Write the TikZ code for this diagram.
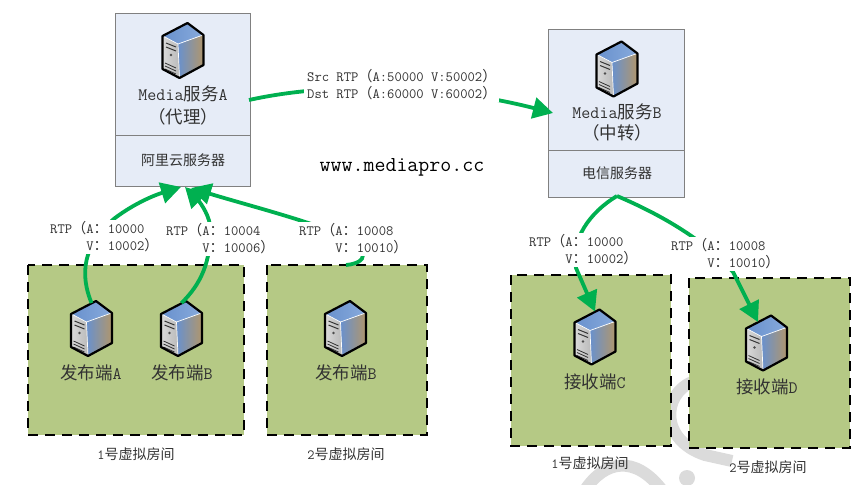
\documentclass[tikz,border=0pt]{standalone}
\usepackage{fontspec}
\newfontfamily\cjk{Noto Sans CJK SC}
\usetikzlibrary{arrows.meta}
\definecolor{roomgreen}{RGB}{181,201,133}
\definecolor{boxblue}{RGB}{230,236,247}
\definecolor{flowgreen}{RGB}{0,176,80}
\definecolor{inktext}{RGB}{50,50,50}
\definecolor{srvblue}{RGB}{105,145,205}
\definecolor{srvtan}{RGB}{175,150,110}
\definecolor{srvtop}{RGB}{135,170,220}
\newcommand{\cn}[1]{{\cjk #1}}
\tikzset{
    room/.style={draw=black, fill=roomgreen, line width=2pt, dash pattern=on 10pt off 7pt},
    srvframe/.style={draw=gray, fill=boxblue, line width=0.7pt},
    flow/.style={draw=flowgreen, line width=3.8pt},
    flowtip/.style={flow, -{Triangle[length=20pt,width=21pt]}},
    rtplabel/.style={fill=white, inner xsep=3pt, inner ysep=1.5pt, anchor=north west, align=left, text=inktext,
        font=\ttfamily\fontsize{14.2}{17.5}\selectfont},
    roomname/.style={text=inktext, font=\ttfamily\fontsize{14}{16}\selectfont},
    hostname/.style={text=inktext, font=\ttfamily\fontsize{17.5}{22}\selectfont},
    watermark/.style={draw=gray!28, line width=12pt},
    pics/server/.style={code={
        \coordinate (-roof) at (0,-25);
        \coordinate (-eave) at (-8.5,-20.5);
        \shade[left color=srvblue, right color=srvtan] (-5,-6) -- (20,-15) -- (20,15) -- (-3.5,28) -- cycle;
        \shade[left color=gray!30, right color=gray!55] (-20,-14) -- (-5,-6) -- (-3.5,28) -- (-20,19) -- cycle;
        \shade[left color=srvblue, right color=srvtop] (-20,-14) -- (4.5,-27) -- (20,-15) -- (-5,-6) -- cycle;
        \draw[white, line width=0.7pt] (-20,-14) -- (-5,-6) -- (20,-15) (-5,-6) -- (-3.5,28);
        \foreach \sy in {-7,-3} \draw[black!80, line width=1pt] (-17,\sy) -- (-7,\sy+4);
        \fill[black!70] (-12,5) circle (1.3);
        \foreach \sy in {13,16,19} \draw[black!80, line width=0.8pt] (-18,\sy) -- (-7,\sy+5);
        \draw[black, line width=2.2pt, line join=round] (4.5,-27) -- (20.5,-15) -- (20.5,15) -- (-3.5,28) -- (-20.5,19) -- (-20.5,-14) -- cycle;
    }}
}
\begin{document}
\begin{tikzpicture}[x=1pt, y=-1pt]
\useasboundingbox (0,0) rectangle (863,485);

% Watermark
\draw[watermark] (692,382) .. controls (662,395) and (660,440) .. (705,455) -- (732,461);
\draw[watermark] (585,490) .. controls (605,460) and (635,455) .. (662,490);
\fill[gray!28] (687,478) circle (8);

% Virtual rooms
\draw[room] (28,265) rectangle (244,435);
\draw[room] (267,265) rectangle (427,435);
\draw[room] (511,275) rectangle (671,446);
\draw[room] (689,278) rectangle (850,448);

\node[roomname] (room1) at (136,454) {1\cn{号虚拟房间}};
\node[roomname] (room2) at (346,454) {2\cn{号虚拟房间}};
\node[roomname] (room3) at (590,463) {1\cn{号虚拟房间}};
\node[roomname] (room4) at (768,467) {2\cn{号虚拟房间}};

% Media servers
\draw[srvframe] (115.5,13) rectangle (250.5,186);
\draw[srvframe] (115.5,135) -- (250.5,135);
\coordinate (frameA-inl) at (181,187);
\coordinate (frameA-inm) at (185,187);
\coordinate (frameA-inr) at (191,188);
\coordinate (frameA-out) at (249,100);
\draw[srvframe] (548,29) rectangle (684,197);
\draw[srvframe] (548,150) -- (684,150);
\coordinate (frameB-in) at (553,113);
\coordinate (frameB-out) at (617,196);

\pic (mediaA) at (183,50) {server};
\pic (mediaB) at (617,68.5) {server};
\node[hostname] (nameA) at (183,94) {Media\cn{服务}A};
\node[hostname] (roleA) at (183,117) {\cn{（代理）}};
\node[text=inktext, font=\cjk\fontsize{14}{16}\selectfont] (cloudA) at (183,160) {阿里云服务器};
\node[hostname] (nameB) at (617,112) {Media\cn{服务}B};
\node[hostname] (roleB) at (617,133) {\cn{（中转）}};
\node[text=inktext, font=\cjk\fontsize{14}{16}\selectfont] (cloudB) at (617,173) {电信服务器};

% Endpoints
\pic (pubA) at (91.5,328) {server};
\pic (pubB) at (181.5,328) {server};
\pic (pubC) at (345.5,328) {server};
\pic (subC) at (595,336.5) {server};
\pic (subD) at (766.5,342.5) {server};
\node[hostname] (namePubA) at (91,373) {\cn{发布端}A};
\node[hostname] (namePubB) at (182,373) {\cn{发布端}B};
\node[hostname] (namePubC) at (346,373) {\cn{发布端}B};
\node[hostname] (nameSubC) at (595,382) {\cn{接收端}C};
\node[hostname] (nameSubD) at (767,387) {\cn{接收端}D};
\coordinate (pubC-up) at (346,265);

% Media flows
\draw[flowtip] (pubA-roof) .. controls (80,275) and (82,245) .. (115,218) .. controls (135,203) and (155,195) .. (frameA-inl);
\draw[flowtip] (pubB-roof) .. controls (200,285) and (212,262) .. (210,225) .. controls (208,212) and (198,200) .. (frameA-inm);
\draw[flowtip] (pubC-up) .. controls (358,264) and (375,258) .. (350,240) .. controls (325,225) and (250,206) .. (frameA-inr);
\draw[flowtip] (frameA-out) .. controls (330,82) and (440,84) .. (frameB-in);
\draw[flowtip] (frameB-out) .. controls (590,212) and (570,240) .. (576,268) -- (subC-roof);
\draw[flowtip] (frameB-out) .. controls (650,210) and (700,235) .. (733,272) -- (subD-eave);

% Flow labels
\node[rtplabel] (rtpA) at (47,219.5) {RTP\cn{（}A\cn{：}10000\\\hphantom{RTP\cn{（}}V\cn{：}10002\cn{）}};
\node[rtplabel] (rtpB) at (163,221.5) {RTP\cn{（}A\cn{：}10004\\\hphantom{RTP\cn{（}}V\cn{：}10006\cn{）}};
\node[rtplabel] (rtpC) at (296,221.5) {RTP\cn{（}A\cn{：}10008\\\hphantom{RTP\cn{（}}V\cn{：}10010\cn{）}};
\node[rtplabel] (rtpD) at (526,232.5) {RTP\cn{（}A\cn{：}10000\\\hphantom{RTP\cn{（}}V\cn{：}10002\cn{）}};
\node[rtplabel] (rtpE) at (668,236.5) {RTP\cn{（}A\cn{：}10008\\\hphantom{RTP\cn{（}}V\cn{：}10010\cn{）}};
\node[rtplabel] (rtpTop) at (304,67.5) {Src RTP\cn{（}A:50000 V:50002\cn{）}\\Dst RTP\cn{（}A:60000 V:60002\cn{）}};

\node[font=\ttfamily\fontsize{21.3}{24}\selectfont, text=black] (site) at (402,167) {www.mediapro.cc};
\end{tikzpicture}
\end{document}
